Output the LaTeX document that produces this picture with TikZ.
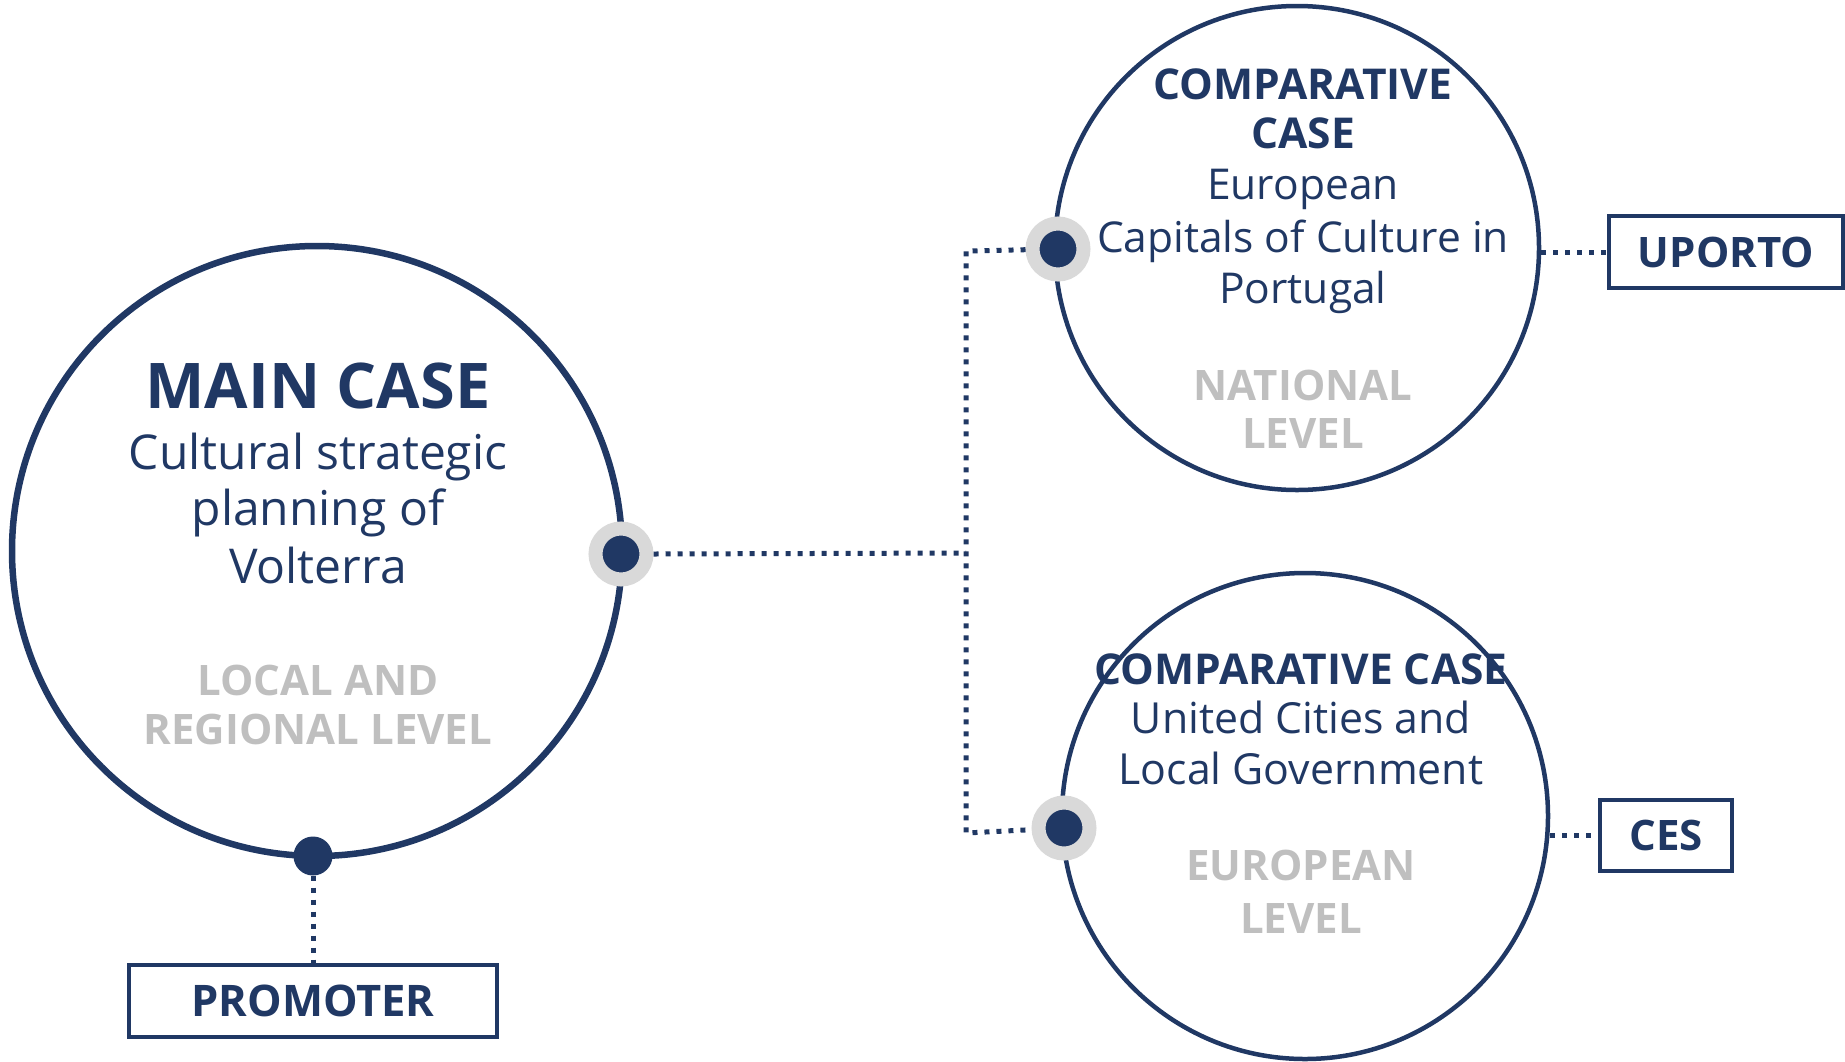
\documentclass[tikz,border=0pt]{standalone}
\usepackage{fontspec}
\setmainfont{Open Sans}
\definecolor{navy}{HTML}{203864}
\definecolor{ringgrey}{HTML}{D9D9D9}
\definecolor{levelgrey}{HTML}{BFBFBF}
\begin{document}
\begin{tikzpicture}[x=1pt,y=-1pt,
  casecircle/.style={circle, draw=navy, line width=4.5pt, inner sep=0pt},
  ringdot/.style={circle, fill=navy, draw=ringgrey, line width=14pt, minimum size=51pt, inner sep=0pt},
  plaindot/.style={circle, fill=navy, minimum size=39pt, inner sep=0pt},
  dotline/.style={draw=navy, line width=5pt, dash pattern=on 5pt off 7pt},
  labelbox/.style={draw=navy, line width=3.5pt, inner sep=0pt, text=navy,
    font=\fontsize{42}{48}\selectfont\bfseries},
  txt/.style={anchor=base, inner sep=0pt, text=navy},
  bigtitle/.style={txt, font=\fontsize{63}{70}\selectfont\bfseries},
  title/.style={txt, font=\fontsize{#1}{48}\selectfont\bfseries},
  desc/.style={txt, font=\fontsize{#1}{48}\selectfont},
  level/.style={txt, text=levelgrey, font=\fontsize{42}{48}\selectfont\bfseries}]
\useasboundingbox (0,0) rectangle (1845,1061);

% the three cases
\node[casecircle, line width=6.5pt, minimum size=610pt] (main) at (317,551) {};
\node[casecircle, minimum size=484pt] (ecoc) at (1297,248) {};
\node[casecircle, minimum size=486pt] (uclg) at (1305,816) {};

% boxes
\node[labelbox, font=\fontsize{43.5}{48}\selectfont\bfseries,
      minimum width=368pt, minimum height=72pt] (promoter) at (313,1001) {PROMOTER};
\node[labelbox, minimum width=234pt, minimum height=72pt] (uporto) at (1726,252) {UPORTO};
\node[labelbox, minimum width=132pt, minimum height=71pt] (ces) at (1666,835.5) {CES};

% junction of the connectors
\coordinate (jt) at (966,251);
\coordinate (jm) at (966,553);
\coordinate (jb) at (966,833);

% connection points on the circles
\node[ringdot] (mainR) at (621,554) {};
\node[plaindot] (mainB) at (313,856) {};
\node[ringdot] (ecocL) at (1058,249) {};
\node[ringdot] (uclgL) at (1064,828) {};

% connectors
\draw[dotline] (mainR.east) -- (jm);
\draw[dotline] (ecocL) -- (jt) -- (jb) -- (uclgL);
\draw[dotline] (mainB) -- (promoter.north);
\draw[dotline] (ecoc.east |- uporto.west) -- (uporto.west);
\draw[dotline] (uclg.east |- ces.west) -- (ces.west);

% main case text
\node[bigtitle] (m1) at (318,408) {MAIN CASE};
\node[desc=48] (m2) at (318,469) {Cultural strategic};
\node[desc=48] (m3) at (318,525) {planning of};
\node[desc=48] (m4) at (318,583) {Volterra};
\node[level] (m5) at (318,695) {LOCAL AND};
\node[level] (m6) at (318,744) {REGIONAL LEVEL};

% national comparative case text
\node[title=42.5] (e1) at (1303,99) {COMPARATIVE};
\node[title=42.5] (e2) at (1303,148) {CASE};
\node[desc=42.5] (e3) at (1303,199) {European};
\node[desc=42.5] (e4) at (1303,252) {Capitals of Culture in};
\node[desc=42.5] (e5) at (1303,303) {Portugal};
\node[level] (e6) at (1303,400) {NATIONAL};
\node[level] (e7) at (1303,448) {LEVEL};

% european comparative case text
\node[title=42.5] (u1) at (1301,684) {COMPARATIVE CASE};
\node[desc=42.8] (u2) at (1301,733) {United Cities and};
\node[desc=42.8] (u3) at (1301,784) {Local Government};
\node[level] (u4) at (1301,880) {EUROPEAN};
\node[level] (u5) at (1301,933) {LEVEL};
\end{tikzpicture}
\end{document}
